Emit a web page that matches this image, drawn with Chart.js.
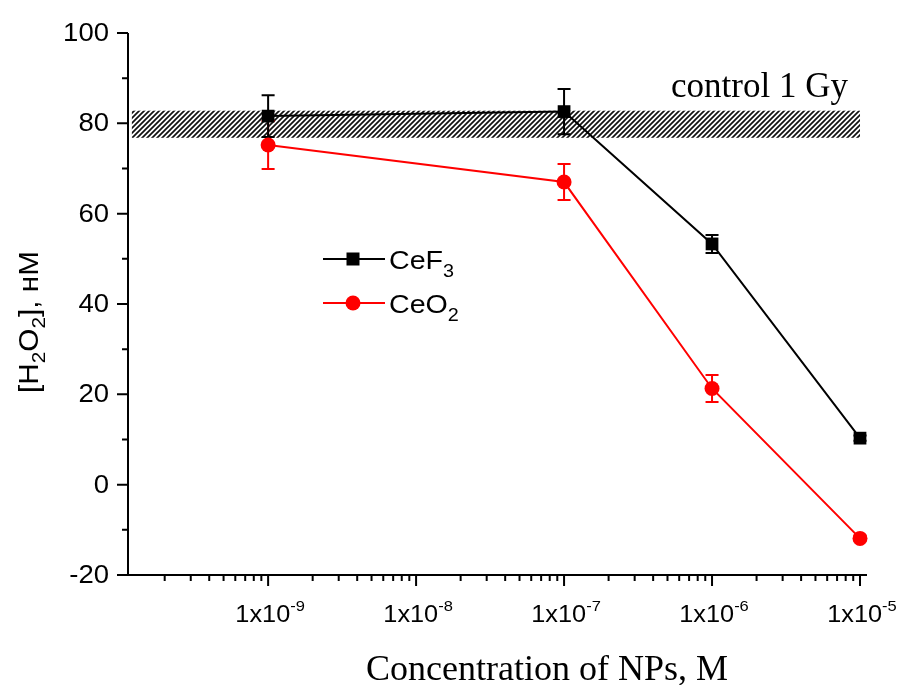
<!DOCTYPE html>
<html>
<head>
<meta charset="utf-8">
<script src="https://cdn.jsdelivr.net/npm/chart.js@4.4.1/dist/chart.umd.min.js"></script>
<style>
  html, body { margin: 0; padding: 0; background: #fff; }
  #wrap { width: 908px; height: 685px; }
</style>
</head>
<body>
<div id="wrap"><canvas id="chart" width="908" height="685"></canvas></div>
<script>
// concentration of NPs, M
const concentrations = [1e-9, 1e-7, 1e-6, 1e-5];

// [H2O2], nM and error bars
const cef3Values = [81.6, 82.6, 53.3, 10.3];
const cef3Errors = [4.6, 5.0, 2.0, 0.6];
const ceo2Values = [75.2, 67.0, 21.3, -11.9];
const ceo2Errors = [5.3, 4.0, 3.0, 0.6];

// control 1 Gy band
const controlLow = 76.8;
const controlHigh = 82.8;
const controlFrom = 1.2e-10;
const controlTo = 1e-5;

// axes
const xMajorTicks = [1e-9, 1e-8, 1e-7, 1e-6, 1e-5];
const xTickExponents = ['-9', '-8', '-7', '-6', '-5'];
const yMajorTicks = [-20, 0, 20, 40, 60, 80, 100];
const yMinorTicks = [-10, 10, 30, 50, 70, 90];

const SANS = '"Liberation Sans", Arial, sans-serif';
const SERIF = '"Liberation Serif", "Times New Roman", serif';
const STRETCH = 1.1; // the sans text in the figure is a bit wide

const toPoints = (ys) => concentrations.map((x, i) => ({ x, y: ys[i] }));

// text with sub/superscripts: parts = [[text, size, dy], ...]
function drawParts(ctx, parts, x, y, align) {
    let total = 0;
    parts.forEach(p => {
        ctx.font = p[1] + 'px ' + SANS;
        total += ctx.measureText(p[0]).width * STRETCH;
    });
    let cx = align === 'center' ? x - total / 2 : (align === 'right' ? x - total : x);
    ctx.textAlign = 'left';
    ctx.textBaseline = 'alphabetic';
    parts.forEach(p => {
        ctx.font = p[1] + 'px ' + SANS;
        ctx.save();
        ctx.translate(cx, y + (p[2] || 0));
        ctx.scale(STRETCH, 1);
        ctx.fillText(p[0], 0, 0);
        ctx.restore();
        cx += ctx.measureText(p[0]).width * STRETCH;
    });
}

function hatchPattern(ctx) {
    const s = 5;
    const c = document.createElement('canvas');
    c.width = s; c.height = s;
    const g = c.getContext('2d');
    g.strokeStyle = '#111';
    g.lineWidth = 1.7;
    g.beginPath();
    g.moveTo(0, s); g.lineTo(s, 0);
    g.moveTo(-1, 1); g.lineTo(1, -1);
    g.moveTo(s - 1, s + 1); g.lineTo(s + 1, s - 1);
    g.stroke();
    return ctx.createPattern(c, 'repeat');
}

const decorPlugin = {
    id: 'decor',
    beforeDatasetsDraw(chart) {
        const { ctx, scales: { x, y } } = chart;

        // hatched control band
        const x0 = x.getPixelForValue(controlFrom);
        const x1 = x.getPixelForValue(controlTo);
        const y0 = y.getPixelForValue(controlHigh);
        const y1 = y.getPixelForValue(controlLow);
        ctx.save();
        ctx.fillStyle = hatchPattern(ctx);
        ctx.fillRect(x0, y0, x1 - x0, y1 - y0);
        ctx.restore();

        // error bars
        const bars = [
            { values: ceo2Values, errors: ceo2Errors, color: '#ff0000' },
            { values: cef3Values, errors: cef3Errors, color: '#000000' }
        ];
        ctx.save();
        ctx.lineWidth = 2;
        bars.forEach(b => {
            ctx.strokeStyle = b.color;
            concentrations.forEach((c, i) => {
                const px = x.getPixelForValue(c);
                const top = y.getPixelForValue(b.values[i] + b.errors[i]);
                const bot = y.getPixelForValue(b.values[i] - b.errors[i]);
                ctx.beginPath();
                ctx.moveTo(px, top); ctx.lineTo(px, bot);
                ctx.moveTo(px - 6.5, top); ctx.lineTo(px + 6.5, top);
                ctx.moveTo(px - 6.5, bot); ctx.lineTo(px + 6.5, bot);
                ctx.stroke();
            });
        });
        ctx.restore();
    },
    afterDraw(chart) {
        const { ctx, chartArea: area, scales: { x, y } } = chart;
        ctx.save();
        ctx.strokeStyle = '#000';
        ctx.fillStyle = '#000';
        ctx.lineWidth = 2;

        // axis lines
        ctx.beginPath();
        ctx.moveTo(area.left, area.top);
        ctx.lineTo(area.left, area.bottom);
        ctx.lineTo(area.right, area.bottom);
        ctx.stroke();

        // y ticks and labels
        ctx.beginPath();
        yMajorTicks.forEach(v => {
            const py = y.getPixelForValue(v);
            ctx.moveTo(area.left - 11, py); ctx.lineTo(area.left, py);
        });
        yMinorTicks.forEach(v => {
            const py = y.getPixelForValue(v);
            ctx.moveTo(area.left - 6, py); ctx.lineTo(area.left, py);
        });
        ctx.stroke();
        yMajorTicks.forEach(v => {
            drawParts(ctx, [[String(v), 25, 0]], area.left - 19, y.getPixelForValue(v) + 8, 'right');
        });

        // x ticks (log, with minor 2..9)
        ctx.beginPath();
        for (let e = -10; e <= -5; e++) {
            for (let m = 1; m <= 9; m++) {
                const v = m * Math.pow(10, e);
                if (v < x.min || v > x.max) continue;
                const px = x.getPixelForValue(v);
                const len = m === 1 ? 11 : 6;
                ctx.moveTo(px, area.bottom); ctx.lineTo(px, area.bottom + len);
            }
        }
        ctx.stroke();
        xMajorTicks.forEach((v, i) => {
            drawParts(ctx, [['1x10', 23, 0], [xTickExponents[i], 15, -11]],
                x.getPixelForValue(v) + 2, area.bottom + 47, 'center');
        });

        // x axis title
        ctx.font = '36px ' + SERIF;
        ctx.textAlign = 'center';
        ctx.textBaseline = 'alphabetic';
        ctx.fillText('Concentration of NPs, M', 547, 680);

        // y axis title
        ctx.save();
        ctx.translate(38, 322);
        ctx.rotate(-Math.PI / 2);
        drawParts(ctx, [['[H', 27, 0], ['2', 19, 7], ['O', 27, 0], ['2', 19, 7], ['], нМ', 27, 0]], 0, 0, 'center');
        ctx.restore();

        // control label
        ctx.font = '35px ' + SERIF;
        ctx.textAlign = 'left';
        ctx.fillText('control 1 Gy', 671, 97);

        // legend
        const legend = [
            { label: [['CeF', 26, 0], ['3', 18, 8]], color: '#000', style: 'rect', y: 259 },
            { label: [['CeO', 26, 0], ['2', 18, 8]], color: '#ff0000', style: 'circle', y: 303 }
        ];
        legend.forEach(l => {
            ctx.strokeStyle = l.color;
            ctx.fillStyle = l.color;
            ctx.lineWidth = 2;
            ctx.beginPath();
            ctx.moveTo(323, l.y); ctx.lineTo(385, l.y);
            ctx.stroke();
            if (l.style === 'rect') {
                ctx.fillRect(353 - 6.5, l.y - 6.5, 13, 13);
            } else {
                ctx.beginPath();
                ctx.arc(353, l.y, 7.5, 0, Math.PI * 2);
                ctx.fill();
            }
            ctx.fillStyle = '#000';
            drawParts(ctx, l.label, 389, l.y + 10, 'left');
        });
        ctx.restore();
    }
};

new Chart(document.getElementById('chart'), {
    type: 'line',
    data: {
        datasets: [
            {
                label: 'CeO2',
                data: toPoints(ceo2Values),
                borderColor: '#ff0000',
                backgroundColor: '#ff0000',
                borderWidth: 2,
                pointStyle: 'circle',
                pointRadius: 7.5,
                pointBorderWidth: 0,
                tension: 0,
                clip: false
            },
            {
                label: 'CeF3',
                data: toPoints(cef3Values),
                borderColor: '#000000',
                backgroundColor: '#000000',
                borderWidth: 2,
                pointStyle: 'rect',
                pointRadius: 9,
                pointBorderWidth: 0,
                tension: 0,
                clip: false
            }
        ]
    },
    options: {
        responsive: false,
        animation: false,
        layout: { padding: { left: 128, top: 33, right: 41, bottom: 110 } },
        scales: {
            x: { type: 'logarithmic', display: false, min: 1.13e-10, max: 1.115e-5 },
            y: { type: 'linear', display: false, min: -20, max: 100 }
        },
        plugins: {
            legend: { display: false },
            tooltip: { enabled: false }
        }
    },
    plugins: [decorPlugin]
});
</script>
</body>
</html>
